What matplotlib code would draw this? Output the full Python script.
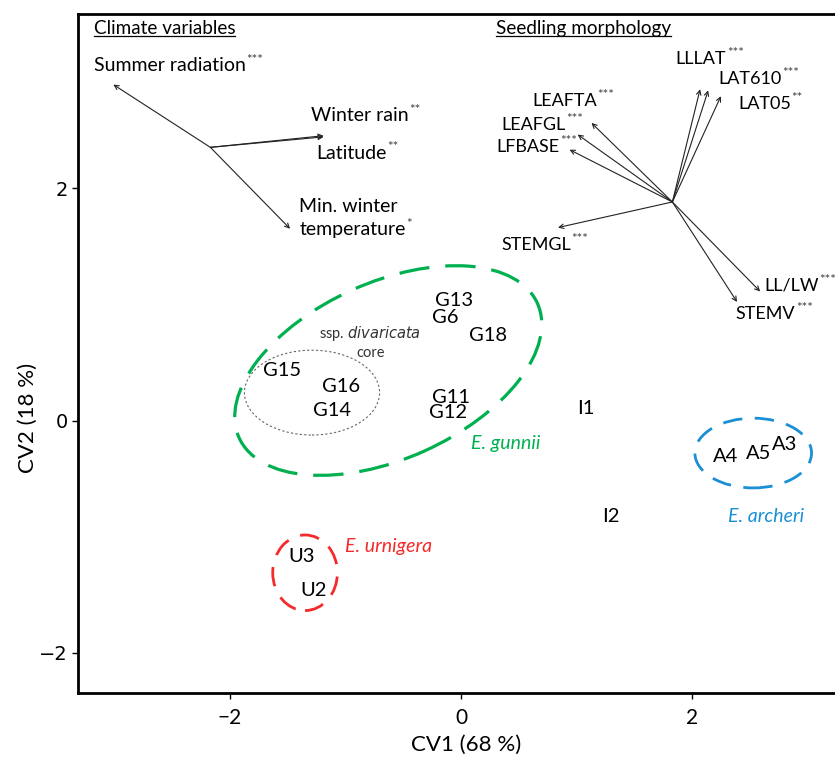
import numpy as np
import matplotlib
matplotlib.use("Agg")
import matplotlib.pyplot as plt
from matplotlib.patches import Ellipse
from matplotlib.lines import Line2D

plt.rcParams['font.family'] = ['Lato', 'DejaVu Sans']

# population scores on the canonical variates
pops = ['G13', 'G6', 'G18', 'G15', 'G16', 'G14', 'G11', 'G12',
        'I1', 'I2', 'A4', 'A5', 'A3', 'U3', 'U2']
cv1 = [-0.06, -0.14, 0.23, -1.55, -1.04, -1.12, -0.09, -0.11,
       1.08, 1.30, 2.29, 2.58, 2.80, -1.38, -1.28]
cv2 = [1.03, 0.89, 0.73, 0.43, 0.29, 0.09, 0.20, 0.07,
       0.10, -0.83, -0.31, -0.28, -0.21, -1.17, -1.46]

# climate vectors (origin + tips)
clim_origin = (-2.17, 2.35)
clim_tip_x = [-3.01, -1.19, -1.19, -1.48]
clim_tip_y = [2.89, 2.45, 2.44, 1.65]
clim_names = ['Summer radiation', 'Winter rain', 'Latitude', 'Min. winter\ntemperature']
clim_sig = ['***', '**', '**', '*']
clim_lab_x = [-3.18, -1.30, -1.25, -1.40]
clim_lab_y = [3.05, 2.62, 2.30, 1.84]

# seedling morphology vectors
morph_origin = (1.83, 1.88)
morph_names = ['LLLAT', 'LAT610', 'LAT05', 'LEAFTA', 'LEAFGL', 'LFBASE',
               'STEMGL', 'LL/LW', 'STEMV']
morph_sig = ['***', '***', '**', '***', '***', '***', '***', '***', '***']
morph_tip_x = [2.07, 2.14, 2.25, 1.13, 1.01, 0.94, 0.84, 2.59, 2.39]
morph_tip_y = [2.85, 2.84, 2.79, 2.56, 2.46, 2.33, 1.66, 1.11, 1.02]
morph_lab_x = [1.86, 2.23, 2.40, 0.62, 0.35, 0.31, 0.35, 2.63, 2.38]
morph_lab_y = [3.11, 2.94, 2.72, 2.75, 2.54, 2.35, 1.51, 1.16, 0.92]

green = '#00b050'
red = '#f52a2a'
blue = '#1a8fd6'

fig = plt.figure(figsize=(8.35, 7.58), dpi=100)
ax = fig.add_axes([0.0934, 0.0858, 0.9066, 0.8957])
ax.set_xlim(-3.316, 3.238)
ax.set_ylim(-2.344, 3.497)

for sp in ['left', 'bottom', 'top']:
    ax.spines[sp].set_linewidth(2)
ax.spines['right'].set_visible(False)
ax.set_xticks([-2, 0, 2])
ax.set_yticks([-2, 0, 2])
ax.set_xticklabels(['\u22122', '0', '2'], fontsize=15)
ax.set_yticklabels(['\u22122', '0', '2'], fontsize=14, family='DejaVu Sans')
ax.tick_params(length=4, width=1)
ax.tick_params(axis='x', pad=7)
ax.set_xlabel('CV1 (68 %)', fontsize=16)
ax.set_ylabel('CV2 (18 %)', fontsize=16)
ax.xaxis.set_label_coords(0.513, -0.062)
ax.yaxis.set_label_coords(-0.053, 0.405)

for name, x, y in zip(pops, cv1, cv2):
    ax.text(x, y, name, fontsize=14.5, ha='center', va='center')

# group ellipses
ax.add_patch(Ellipse((-0.63, 0.43), 2.83, 1.52, angle=24, fill=False,
                     ec=green, lw=2.3, ls=(0, (9.5, 5))))
ax.add_patch(Ellipse((-1.29, 0.24), 1.17, 0.73, fill=False,
                     ec='#666666', lw=0.8, ls=(0, (2, 2))))
ax.add_patch(Ellipse((-1.35, -1.31), 0.56, 0.65, fill=False,
                     ec=red, lw=2.0, ls=(0, (7, 4.5))))
ax.add_patch(Ellipse((2.53, -0.28), 1.01, 0.60, fill=False,
                     ec=blue, lw=2.0, ls=(0, (7, 4.5))))

ax.text(0.09, -0.20, 'E. gunnii', color=green, style='italic', fontsize=14, va='center')
ax.text(2.64, -0.83, 'E. archeri', color=blue, style='italic', fontsize=14, va='center', ha='center')
ax.text(-1.0, -1.08, 'E. urnigera', color=red, style='italic', fontsize=14, va='center')
ax.text(-0.79, 0.75, 'ssp. $\\it{divaricata}$', fontsize=10.5, ha='center', va='center',
        color='#333333')
ax.text(-0.78, 0.58, 'core', fontsize=10.5, ha='center', va='center', color='#333333')

arrow_kw = dict(arrowstyle='->', lw=0.8, color='#222222', mutation_scale=8,
                shrinkA=0, shrinkB=0)
for tx, ty in zip(clim_tip_x, clim_tip_y):
    ax.annotate('', xy=(tx, ty), xytext=clim_origin, arrowprops=arrow_kw)
for tx, ty in zip(morph_tip_x, morph_tip_y):
    ax.annotate('', xy=(tx, ty), xytext=morph_origin, arrowprops=arrow_kw)


def label(x, y, txt, sig, size):
    # name with small raised significance stars
    t = ax.text(x, y, txt, fontsize=size, va='center')
    ax.annotate(sig, xy=(1.0, 0.5), xycoords=t, xytext=(0.3, 0),
                textcoords='offset points', fontsize=9.5, color='#444444',
                va='bottom', ha='left')
    return t


for name, sig, x, y in zip(clim_names, clim_sig, clim_lab_x, clim_lab_y):
    lines = name.split('\n')
    if len(lines) == 2:
        ax.text(x, y, lines[0], fontsize=14, va='center')
        label(x, y - 0.2, lines[1], sig, 14)
    else:
        label(x, y, name, sig, 14)

for name, sig, x, y in zip(morph_names, morph_sig, morph_lab_x, morph_lab_y):
    label(x, y, name, sig, 13)

titles = [ax.text(-3.18, 3.37, 'Climate variables', fontsize=13.6, va='center'),
          ax.text(0.30, 3.37, 'Seedling morphology', fontsize=13.6, va='center')]

# underline the section titles
fig.canvas.draw()
r = fig.canvas.get_renderer()
inv = fig.transFigure.inverted()
for t in titles:
    bb = t.get_window_extent(r)
    (x0, y0), (x1, _) = inv.transform([(bb.x0, bb.y0 + 1), (bb.x1, bb.y0)])
    fig.add_artist(Line2D([x0, x1], [y0, y0], color='black', lw=0.9,
                          transform=fig.transFigure))

fig.savefig('out.png', dpi=100)
